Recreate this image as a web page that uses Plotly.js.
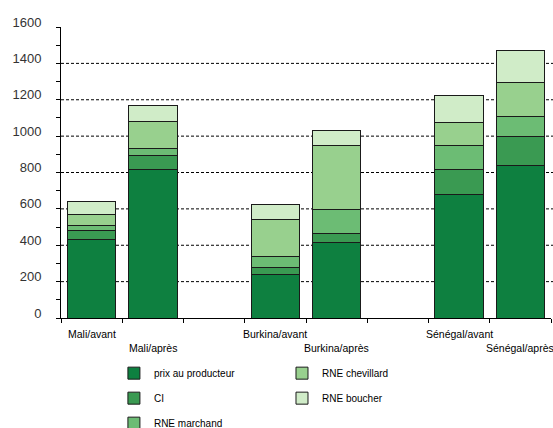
<!DOCTYPE html>
<html><head><meta charset="utf-8">
<script src="https://cdn.plot.ly/plotly-3.0.1.min.js"></script>
<style>html,body{margin:0;padding:0;background:#fff}#chart{width:553px;height:428px}</style>
</head><body><div id="chart"></div>
<script>
// Categories (with empty slots between countries)
const slots = ["Mali/avant", "Mali/après", " ", "Burkina/avant", "Burkina/après", "  ", "Sénégal/avant", "Sénégal/après"];
const categories = ["Mali/avant", "Mali/après", "Burkina/avant", "Burkina/après", "Sénégal/avant", "Sénégal/après"];
const seriesNames = ["prix au producteur", "CI", "RNE marchand", "RNE chevillard", "RNE boucher"];
const prixProducteur = [434, 817, 240, 416, 680, 839];
const ci            = [48, 77, 39, 49, 137, 157];
const rneMarchand   = [25, 40, 60, 134, 134, 114];
const rneChevillard = [63, 147, 203, 352, 126, 183];
const rneBoucher    = [71, 87, 81, 82, 144, 180];
const yTicks = [0, 200, 400, 600, 800, 1000, 1200, 1400, 1600];
const gridValues = [200, 400, 600, 800, 1000, 1200, 1400];

const colors = ["#0e8040", "#3a9a52", "#6cbc74", "#98d08e", "#d0ecc8"];
const values = [prixProducteur, ci, rneMarchand, rneChevillard, rneBoucher];
const legendOf = ["legend", "legend", "legend", "legend2", "legend2"];

const traces = values.map((v, i) => ({
  type: "bar", name: seriesNames[i], x: categories, y: v,
  marker: {color: colors[i], line: {color: "#1a1a1a", width: 1}},
  legend: legendOf[i], legendgroup: "g" + i, hoverinfo: "skip"
}));

const shapes = gridValues.map(g => ({
  type: "line", xref: "paper", yref: "y", x0: 0, x1: 1.005, y0: g, y1: g,
  line: {color: "#000", width: 1, dash: "3px,2px"}, layer: "below"
}));

const annotations = categories.map((c, i) => ({
  x: c, xref: "x", y: 0, yref: "paper", yanchor: "top", xanchor: "center",
  text: c, showarrow: false, yshift: (i % 2 === 0) ? -8 : -22,
  font: {family: "Liberation Sans, Arial, sans-serif", size: 10.5, color: "#000"}
}));

const layout = {
  width: 553, height: 428,
  margin: {l: 61, r: 2, t: 27, b: 110, autoexpand: false},
  paper_bgcolor: "#fff", plot_bgcolor: "rgba(0,0,0,0)",
  barmode: "stack", bargap: 0.21,
  showlegend: true,
  xaxis: {
    type: "category", categoryorder: "array", categoryarray: slots,
    range: [-0.5, 7.5], showticklabels: false, tickson: "boundaries",
    ticks: "outside", ticklen: 4, tickcolor: "#000",
    showline: true, linecolor: "#000", linewidth: 1, showgrid: false, zeroline: false,
    fixedrange: true, automargin: false
  },
  yaxis: {
    range: [0, 1600], tickvals: yTicks, ticks: "outside", ticklen: 4, tickcolor: "#000",
    showline: true, linecolor: "#000", linewidth: 1, showgrid: false, zeroline: false,
    minor: {dtick: 100, ticks: "outside", ticklen: 4, tickcolor: "#000", showgrid: false},
    tickfont: {family: "Liberation Sans, Arial, sans-serif", size: 13, color: "#333"},
    ticklabelstandoff: 12, ticklabelshift: -5, fixedrange: true, automargin: false
  },
  shapes: shapes,
  annotations: annotations,
  legend: {
    x: 0.108, xanchor: "left", y: -0.1397, yanchor: "top", orientation: "v",
    traceorder: "grouped", tracegroupgap: 6, bgcolor: "rgba(0,0,0,0)",
    font: {family: "Liberation Sans, Arial, sans-serif", size: 10, color: "#000"}
  },
  legend2: {
    x: 0.451, xanchor: "left", y: -0.1397, yanchor: "top", orientation: "v",
    traceorder: "grouped", tracegroupgap: 6, bgcolor: "rgba(0,0,0,0)",
    font: {family: "Liberation Sans, Arial, sans-serif", size: 10, color: "#000"}
  }
};

Plotly.newPlot("chart", traces, layout, {displayModeBar: false, staticPlot: true});
</script></body></html>
